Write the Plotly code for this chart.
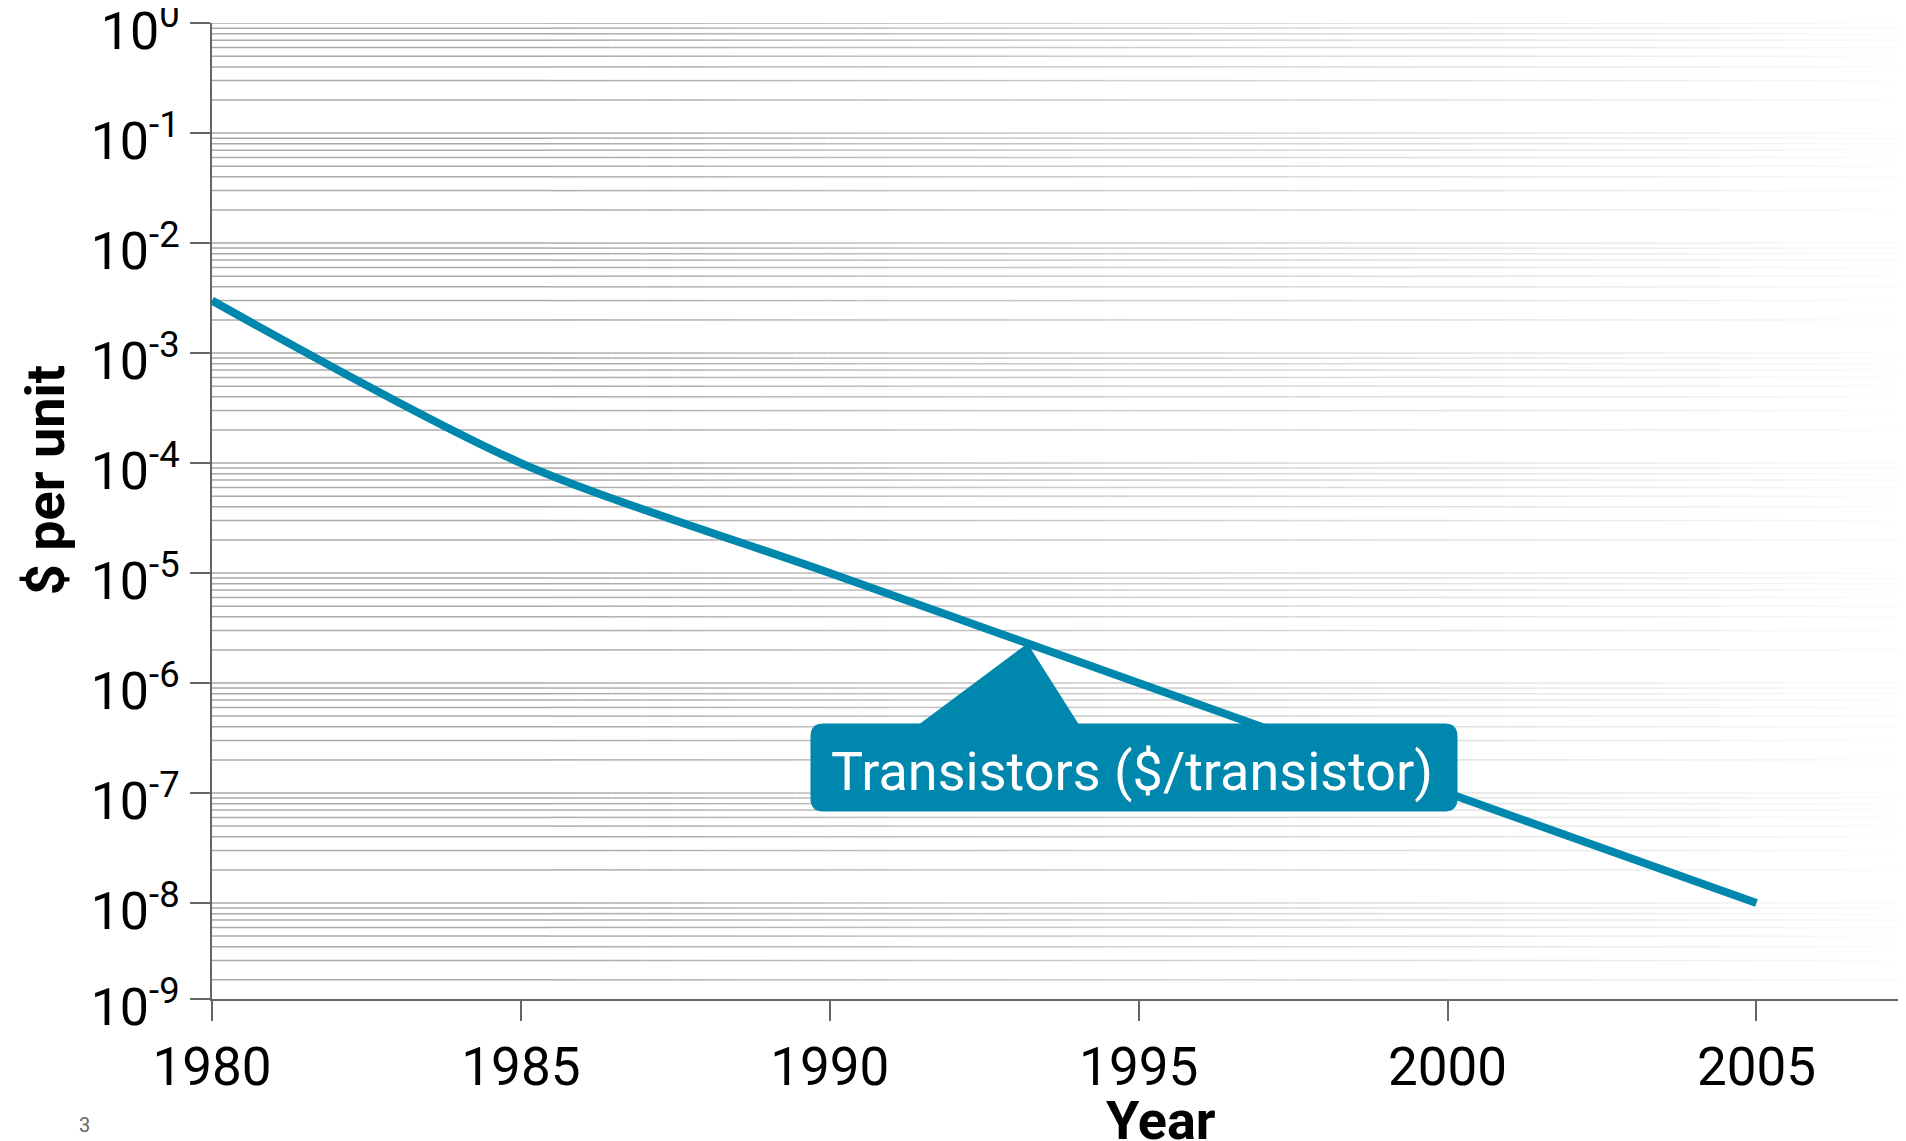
import numpy as np
import plotly.graph_objects as go

# cost of one transistor, US$ (log scale)
years = [1980, 1985, 1990, 1995, 2000, 2005]
cost_per_transistor = [3e-3, 1e-4, 1e-5, 1e-6, 1e-7, 1e-8]

x_ticks = [1980, 1985, 1990, 1995, 2000, 2005]
y_tick_exponents = [0, -1, -2, -3, -4, -5, -6, -7, -8, -9]

series_label = "Transistors ($/transistor)"
label_year = 1993.2

BLUE = "#0087ae"
FONT = "Roboto"
X_RANGE = [1980, 2007.42]
Y_TOP = 0.001
Y_BOTTOM = -8.873  # axis stops a bit above 1e-9; the bottom tick carries the 10^-9 label
PAGE_PAD = 8  # default body margin of the html page
PLOT_LEFT, PLOT_W = 212, 1694

fig = go.Figure()

# gridlines that fade out to the right, drawn as thin line traces slice by slice
grid_vals = [m * 10.0 ** e for e in range(-9, 1) for m in range(1, 10)]
grid_vals = [v for v in grid_vals if Y_BOTTOM + 0.02 < np.log10(v) <= 0.0001]


def px_of(x):
    return PLOT_LEFT + (x - X_RANGE[0]) / (X_RANGE[1] - X_RANGE[0]) * PLOT_W


fade_start = X_RANGE[0] + (550 - PLOT_LEFT) / PLOT_W * (X_RANGE[1] - X_RANGE[0])
cuts = [X_RANGE[0]] + list(np.linspace(fade_start, X_RANGE[1], 45))
for a, b in zip(cuts[:-1], cuts[1:]):
    alpha = min(1.0, max(0.0, (px_of((a + b) / 2) - 550) / 1400))
    g = int(round(170 + 85 * alpha))
    xs, ys = [], []
    for v in grid_vals:
        xs += [a, b, None]
        ys += [v, v, None]
    fig.add_trace(
        go.Scatter(
            x=xs, y=ys, mode="lines",
            line=dict(color=f"rgb({g},{g},{g})", width=1.5),
            hoverinfo="skip", showlegend=False,
        )
    )

fig.add_trace(
    go.Scatter(
        x=years,
        y=cost_per_transistor,
        mode="lines",
        line=dict(color=BLUE, width=8, shape="spline", smoothing=0.8),
        hoverinfo="skip",
        showlegend=False,
    )
)

# y ticks: one per decade, the last one sits on the axis floor
y_tickvals = [10.0 ** e for e in y_tick_exponents[:-1]] + [10.0 ** (Y_BOTTOM + 0.0005)]
y_ticktext = [f"10<sup>{e}</sup>" for e in y_tick_exponents]

# callout box pointing at the line
log_vals = np.log10(cost_per_transistor)
label_log = float(np.interp(label_year, years, log_vals))
L, R, T, B, r = -217, 430, -80, -168, 13
box_path = (
    f"M {L + r},{T} L {R - r},{T} Q {R},{T} {R},{T - r} L {R},{B + r} "
    f"Q {R},{B} {R - r},{B} L {L + r},{B} Q {L},{B} {L},{B + r} "
    f"L {L},{T - r} Q {L},{T} {L + r},{T} Z"
)
tri_path = f"M 0,0 L -110,{T - 2} L 52,{T - 2} Z"
for p in (box_path, tri_path):
    fig.add_shape(
        type="path", path=p, xref="x", yref="y",
        xsizemode="pixel", ysizemode="pixel",
        xanchor=label_year, yanchor=10.0 ** label_log,
        fillcolor=BLUE, line_width=0, layer="above",
    )
fig.add_annotation(
    x=label_year, y=label_log, xref="x", yref="y",
    text=series_label, showarrow=False,
    xshift=(L + R) / 2 - 2, yshift=(T + B) / 2 - 4,
    font=dict(family=FONT, size=54, color="white"),
)

fig.add_annotation(
    text="$ per unit", xref="paper", yref="paper", x=-0.0986, y=0.5315,
    textangle=-90, showarrow=False, xanchor="center", yanchor="middle",
    font=dict(family=FONT, size=54, color="black", weight=700),
)
fig.add_annotation(
    text="Year", xref="paper", yref="paper", x=0.560, y=-0.1245,
    showarrow=False, xanchor="center", yanchor="middle",
    font=dict(family=FONT, size=54, color="black", weight=700),
)
fig.add_annotation(
    text="3", xref="paper", yref="paper", x=-0.075, y=-0.129,
    showarrow=False, xanchor="center", yanchor="middle",
    font=dict(family=FONT, size=20, color="#666666"),
)

fig.update_xaxes(
    range=X_RANGE,
    tickvals=x_ticks,
    ticks="outside", ticklen=20, tickwidth=2, tickcolor="#666666",
    showline=True, linecolor="#666666", linewidth=2,
    showgrid=False, zeroline=False, automargin=False,
    ticklabeloverflow="allow",
    tickfont=dict(family=FONT, size=53, color="black"),
)
fig.update_yaxes(
    type="log",
    range=[Y_BOTTOM, Y_TOP],
    tickvals=y_tickvals, ticktext=y_ticktext,
    ticks="outside", ticklen=20, tickwidth=2, tickcolor="#666666",
    showline=True, linecolor="#666666", linewidth=2,
    showgrid=False, zeroline=False, automargin=False,
    ticklabeloverflow="allow", ticklabelshift=8,
    tickfont=dict(family=FONT, size=52, color="black"),
)
fig.update_layout(
    width=1906 - PAGE_PAD, height=1141 - PAGE_PAD,
    margin=dict(l=PLOT_LEFT - PAGE_PAD, r=0, t=23 - PAGE_PAD, b=142),
    plot_bgcolor="white", paper_bgcolor="white",
    showlegend=False,
)
fig.write_html("out.html")
